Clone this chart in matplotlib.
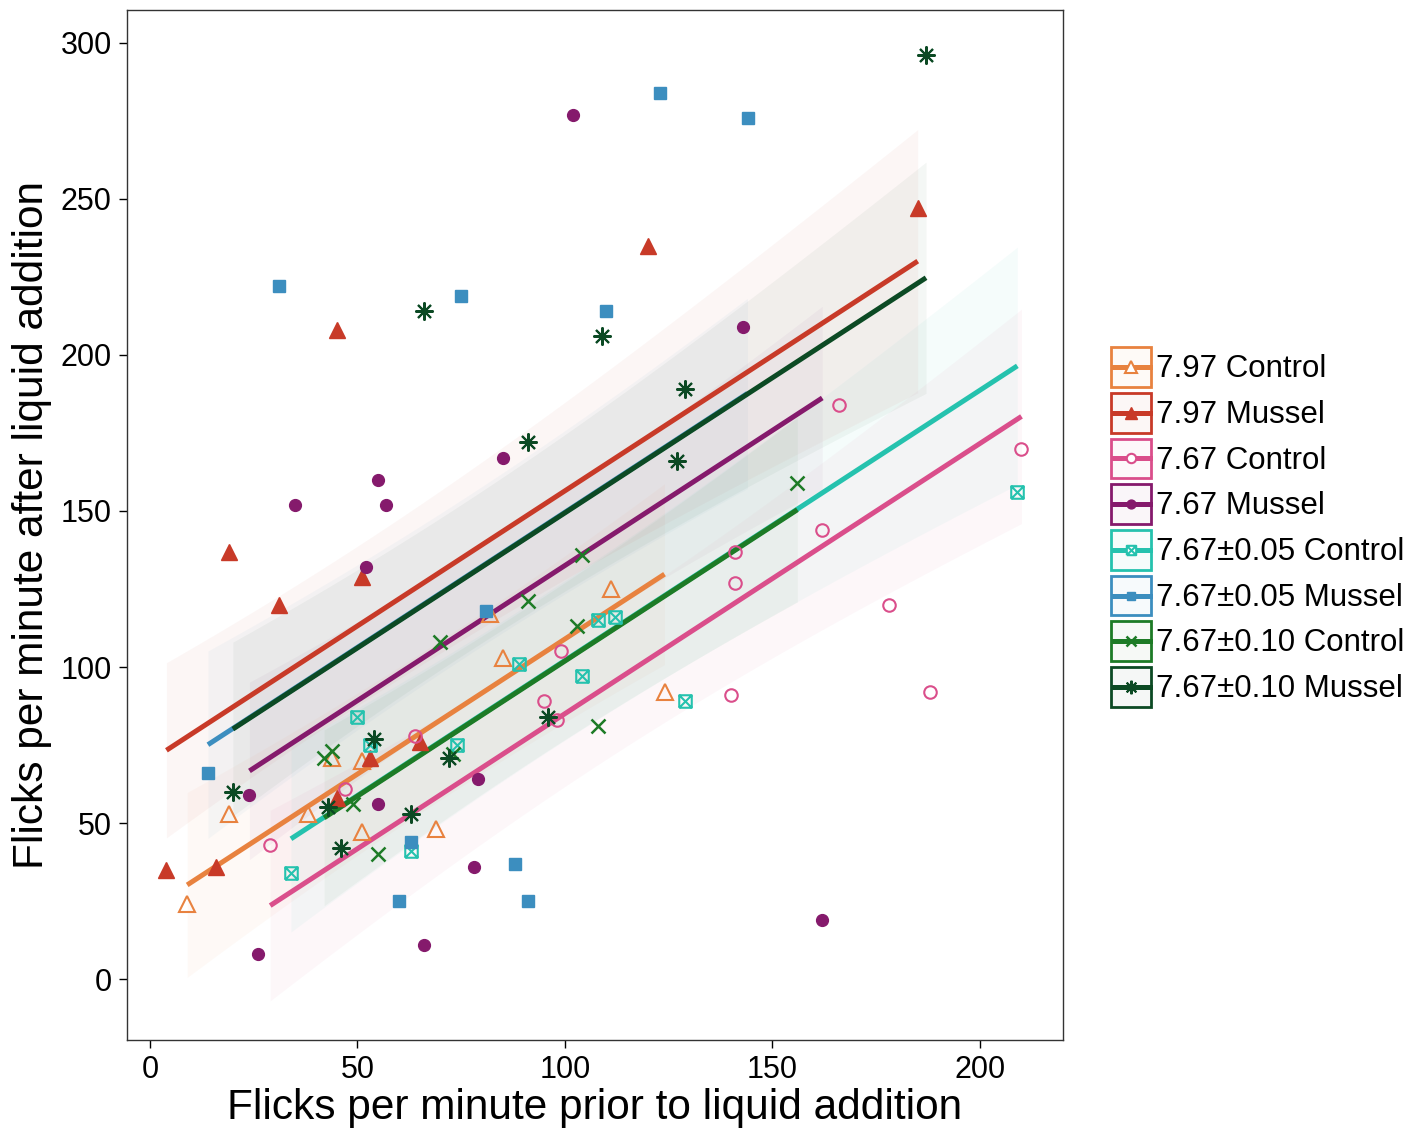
import numpy as np
import matplotlib
matplotlib.use('Agg')
import matplotlib.pyplot as plt
from matplotlib.path import Path
from matplotlib.legend_handler import HandlerBase
from matplotlib.patches import Rectangle
from matplotlib.lines import Line2D

plt.rcParams['font.family'] = ['Liberation Sans', 'DejaVu Sans']

# ---------------- data ----------------
labels = ['7.97 Control', '7.97 Mussel', '7.67 Control', '7.67 Mussel',
          '7.67\u00b10.05 Control', '7.67\u00b10.05 Mussel',
          '7.67\u00b10.10 Control', '7.67\u00b10.10 Mussel']

x_797c = [9, 19, 38, 44, 51, 51, 69, 82, 85, 111, 124]
y_797c = [24, 53, 53, 71, 70, 47, 48, 117, 103, 125, 92]

x_797m = [4, 16, 19, 31, 45, 45, 51, 53, 65, 120, 185]
y_797m = [35, 36, 137, 120, 58, 208, 129, 71, 76, 235, 247]

x_767c = [29, 47, 64, 95, 98, 99, 140, 141, 141, 162, 166, 178, 188, 210]
y_767c = [43, 61, 78, 89, 83, 105, 91, 127, 137, 144, 184, 120, 92, 170]

x_767m = [102, 143, 35, 55, 57, 52, 85, 24, 55, 79, 78, 26, 66, 162]
y_767m = [277, 209, 152, 160, 152, 132, 167, 59, 56, 64, 36, 8, 11, 19]

x_005c = [34, 50, 53, 63, 74, 89, 104, 108, 112, 129, 209]
y_005c = [34, 84, 75, 41, 75, 101, 97, 115, 116, 89, 156]

x_005m = [123, 144, 31, 75, 110, 81, 14, 63, 88, 60, 91]
y_005m = [284, 276, 222, 219, 214, 118, 66, 44, 37, 25, 25]

x_010c = [42, 44, 49, 55, 70, 73, 91, 103, 104, 108, 156]
y_010c = [71, 73, 56, 40, 108, 72, 121, 113, 136, 81, 159]

x_010m = [20, 43, 46, 54, 63, 66, 72, 91, 96, 109, 127, 129, 187]
y_010m = [60, 55, 42, 77, 53, 214, 71, 172, 84, 206, 166, 189, 296]

xs = [x_797c, x_797m, x_767c, x_767m, x_005c, x_005m, x_010c, x_010m]
ys = [y_797c, y_797m, y_767c, y_767m, y_005c, y_005m, y_010c, y_010m]

# pH level index and treatment (0 = Control, 1 = Mussel) of each group
ph_index = [0, 0, 1, 1, 2, 2, 3, 3]
treatment = [0, 1, 0, 1, 0, 1, 0, 1]

x_ticks = [0, 50, 100, 150, 200]
y_ticks = [0, 50, 100, 150, 200, 250, 300]

# ---------------- styles ----------------
colors = ['#E8823F', '#C83A28', '#DA4E8B', '#851A6C',
          '#25C2AE', '#3C8EBF', '#1D7B26', '#0C4A24']

sq_cross = Path([(-1, -1), (1, -1), (1, 1), (-1, 1), (-1, -1),
                 (-1, -1), (1, 1), (-1, 1), (1, -1)],
                [Path.MOVETO, Path.LINETO, Path.LINETO, Path.LINETO, Path.LINETO,
                 Path.MOVETO, Path.LINETO, Path.MOVETO, Path.LINETO])

styles = [
    dict(marker='^', filled=False, ms=11, mew=1.5),
    dict(marker='^', filled=True, ms=11, mew=1.0),
    dict(marker='o', filled=False, ms=9, mew=1.5),
    dict(marker='o', filled=True, ms=8.5, mew=1.0),
    dict(marker=sq_cross, filled=False, ms=9, mew=1.5),
    dict(marker='s', filled=True, ms=8.5, mew=1.0),
    dict(marker='x', filled=False, ms=10, mew=1.8),
    dict(marker=(8, 2, 0), filled=False, ms=13, mew=1.5),
]

# ------- linear model: y ~ x + pH + treatment (additive, common slope) -------
ng = len(xs)
nph = 4
npar = nph + 2


def design_row(g, xv):
    r = np.zeros(npar)
    r[ph_index[g]] = 1.0
    r[nph] = treatment[g]
    r[nph + 1] = xv
    return r


X = np.array([design_row(g, xv) for g in range(ng) for xv in xs[g]])
Y = np.array([yv for g in range(ng) for yv in ys[g]], dtype=float)
beta, *_ = np.linalg.lstsq(X, Y, rcond=None)
resid = Y - X @ beta
dof = len(Y) - X.shape[1]
s2 = resid @ resid / dof
cov = s2 * np.linalg.inv(X.T @ X)
tq = 1.99

# ---------------- figure ----------------
fig = plt.figure(figsize=(14.28, 11.37), dpi=100)
ax = fig.add_axes([127 / 1428, 97 / 1137, 936 / 1428, 1030 / 1137])

for g in range(ng):
    x0 = np.linspace(min(xs[g]), max(xs[g]), 100)
    R = np.array([design_row(g, v) for v in x0])
    fit = R @ beta
    se = np.sqrt(np.einsum('ij,jk,ik->i', R, cov, R))
    ax.fill_between(x0, fit - tq * se, fit + tq * se, color=colors[g],
                    alpha=0.045, lw=0, zorder=1)

for g in range(ng):
    x0 = np.array([min(xs[g]), max(xs[g])], dtype=float)
    R = np.array([design_row(g, v) for v in x0])
    ax.plot(x0, R @ beta, color=colors[g], lw=3.6, solid_capstyle='butt', zorder=2)

for g in range(ng):
    st = styles[g]
    ax.plot(xs[g], ys[g], ls='none', marker=st['marker'], ms=st['ms'],
            mec=colors[g], mfc=colors[g] if st['filled'] else 'none',
            mew=st['mew'], zorder=3)

ax.set_xlim(-5.5, 220)
ax.set_ylim(-19.5, 310.5)
ax.set_xticks(x_ticks)
ax.set_yticks(y_ticks)
ax.tick_params(axis='both', labelsize=22, direction='out', length=6, width=1,
               colors='black', pad=5)
for sp in ax.spines.values():
    sp.set_color('#333333')
    sp.set_linewidth(1.0)
ax.set_xlabel('Flicks per minute prior to liquid addition', fontsize=30.5, labelpad=2)
ax.set_ylabel('Flicks per minute after liquid addition', fontsize=30.5, labelpad=6)


# ---------------- legend ----------------
class Key:
    def __init__(self, color, st):
        self.color = color
        self.st = st


class KeyHandler(HandlerBase):
    def create_artists(self, legend, orig, xd, yd, w, h, fs, trans):
        c = orig.color
        st = orig.st
        box = Rectangle((-xd + 1, -yd + 1), w - 2, h - 2,
                        facecolor=matplotlib.colors.to_rgba(c, 0.04),
                        edgecolor=c, lw=2.0, transform=trans)
        line = Line2D([-xd + 2, -xd + w - 2], [h / 2 - yd] * 2, color=c, lw=3.6,
                      transform=trans)
        mk = Line2D([w / 2 - xd], [h / 2 - yd], ls='none', marker=st['marker'],
                    ms=st['ms'] * 0.75, mec=c,
                    mfc=c if st['filled'] else 'white',
                    mew=st['mew'], transform=trans)
        return [box, line, mk]


keys = [Key(colors[g], styles[g]) for g in range(ng)]
fig.legend(keys, labels, handler_map={Key: KeyHandler()},
           loc='center left', bbox_to_anchor=(1110 / 1428, 1 - 527 / 1137),
           frameon=False, fontsize=22.5, handlelength=1.36, handleheight=1.72,
           labelspacing=0.1, handletextpad=0.12, borderpad=0.0,
           borderaxespad=0.0)

fig.savefig('out.png', dpi=100)
